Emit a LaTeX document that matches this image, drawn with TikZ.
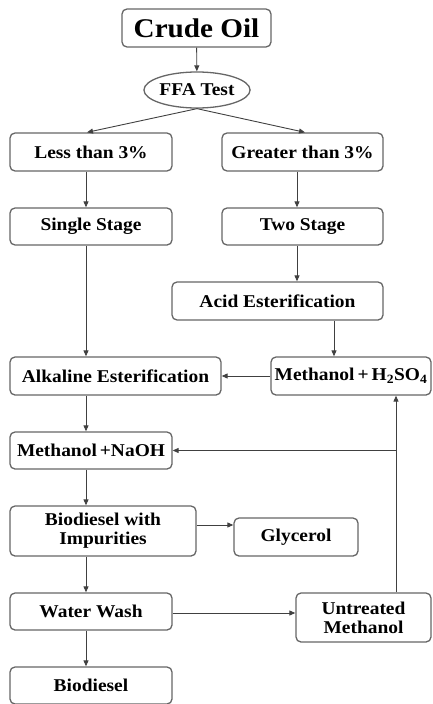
\documentclass[tikz,border=0pt]{standalone}
\usepackage{fontspec}
\setmainfont{Liberation Serif}[FakeStretch=1.08]
\usepackage{tikz}
\usetikzlibrary{arrows.meta,shapes.geometric}

\begin{document}
\begin{tikzpicture}[
  x=1pt,y=-1pt,
  box/.style={draw=black!60,line width=1.3pt,rounded corners=5pt,inner sep=0pt,
    align=center,font=\fontsize{18}{19}\selectfont\bfseries},
  arr/.style={draw=black!75,line width=0.9pt,-{Triangle[length=6pt,width=5pt]}},
]
\useasboundingbox (0,0) rectangle (432,704);

\node[box,minimum width=149pt,minimum height=38pt,font=\fontsize{27}{28}\selectfont\bfseries]
  (crude) at (196.5,28) {Crude Oil};
\node[box,ellipse,rounded corners=0pt,minimum width=100pt,minimum height=36pt]
  (ffa) at (197,90) {FFA Test};
\node[box,minimum width=162pt,minimum height=38pt] (less) at (91,152) {Less than 3\%};
\node[box,minimum width=161pt,minimum height=38pt] (greater) at (302.5,152) {Greater than 3\%};
\node[box,minimum width=162pt,minimum height=37pt] (single) at (91,226.5) {Single Stage};
\node[box,minimum width=161pt,minimum height=37pt] (two) at (302.5,226.5) {Two Stage};
\node[box,minimum width=211pt,minimum height=38pt] (acid) at (277.5,301) {Acid Esterification};
\node[box,minimum width=211pt,minimum height=38pt] (alk) at (115.5,376) {Alkaline Esterification};
\node[box,minimum width=160pt,minimum height=38pt] (mhso) at (351,376)
  {Methanol\,+\,H\textsubscript{2}SO\textsubscript{4}};
\node[box,minimum width=162pt,minimum height=37pt] (naoh) at (91,450.5) {Methanol\,+NaOH};
\node[box,minimum width=186pt,minimum height=50pt] (bimp) at (103,531) {Biodiesel with\\Impurities};
\node[box,minimum width=124pt,minimum height=38pt] (gly) at (296,537) {Glycerol};
\node[box,minimum width=162pt,minimum height=37pt] (wash) at (91,611.5) {Water Wash};
\node[box,minimum width=135pt,minimum height=49pt] (untr) at (363.5,617.5) {Untreated\\Methanol};
\node[box,minimum width=162pt,minimum height=37pt] (bio) at (91,685.5) {Biodiesel};

% main line
\draw[arr] (crude) -- (ffa);
\draw[arr] (ffa.south) -- ([xshift=-4pt]less.north);
\draw[arr] (ffa.south) -- ([xshift=2.5pt]greater.north);
\draw[arr] ([xshift=-5pt]less.south) -- ([xshift=-5pt]single.north);
\draw[arr] ([xshift=-5.5pt]greater.south) -- ([xshift=-5.5pt]two.north);
\draw[arr] ([xshift=-5.5pt]two.south) -- ([xshift=19.5pt]acid.north);
\draw[arr] ([xshift=56.5pt]acid.south) -- ([xshift=-17pt]mhso.north);
\draw[arr] ([xshift=-5pt]single.south) -- ([xshift=-29.5pt]alk.north);
\draw[arr] (mhso) -- (alk);
\draw[arr] ([xshift=-29.5pt]alk.south) -- ([xshift=-5pt]naoh.north);
\draw[arr] ([xshift=-5pt]naoh.south) -- ([xshift=-17pt]bimp.north);
\draw[arr] ([yshift=6pt]bimp.east) -- ([yshift=6pt]bimp.east -| gly.west);
\draw[arr] ([xshift=-17pt]bimp.south) -- ([xshift=-5pt]wash.north);
\draw[arr] ([xshift=-5pt]wash.south) -- ([xshift=-5pt]bio.north);
% methanol recovery
\draw[arr] ([yshift=-1.5pt]wash.east) -- ([yshift=-1.5pt]wash.east -| untr.west);
\draw[arr] ([xshift=32.5pt]untr.north) -- ([xshift=45pt]mhso.south);
\draw[arr] ([xshift=32.5pt]untr.north |- naoh.east) -- (naoh.east);
\end{tikzpicture}
\end{document}
